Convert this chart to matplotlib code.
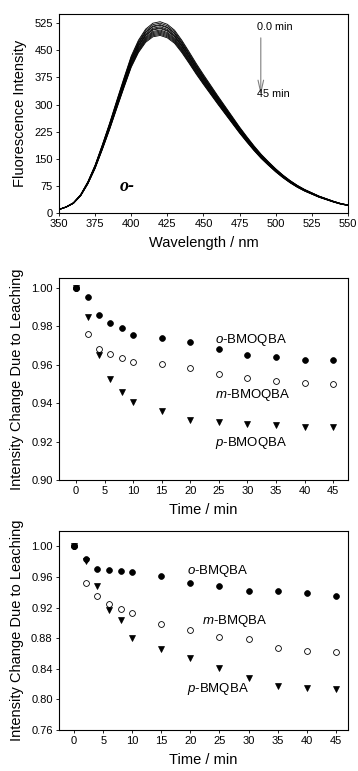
import matplotlib
matplotlib.use("Agg")
import matplotlib.pyplot as plt

plt.rcParams['font.family'] = ['Liberation Sans', 'DejaVu Sans']
plt.rcParams['mathtext.fontset'] = 'custom'
plt.rcParams['mathtext.it'] = 'Liberation Sans:italic'
plt.rcParams['mathtext.rm'] = 'Liberation Sans'

# spectrum (o-BMOQBA), base shape
wavelength = [350, 355, 360, 365, 370, 375, 380, 385, 390, 395, 400, 405, 410,
              415, 420, 425, 430, 435, 440, 445, 450, 455, 460, 465, 470, 475,
              480, 485, 490, 495, 500, 505, 510, 515, 520, 525, 530, 535, 540,
              545, 550]
base_int = [10, 17, 28, 50, 85, 130, 185, 243, 305, 366, 425, 468, 498,
            514, 518, 511, 495, 468, 437, 405, 375, 346, 317, 289, 261, 233,
            207, 182, 159, 139, 120, 103, 88, 75, 64, 55, 46, 39, 32,
            26, 22]
# peak height of each scan, 0 -> 45 min
peaks = [529, 525, 521, 519, 515, 512, 510, 506, 503, 500, 497, 494, 491]

# leaching data
time = [0, 2, 4, 6, 8, 10, 15, 20, 25, 30, 35, 40, 45]
o_bmoqba = [1.000, 0.9952, 0.9858, 0.9818, 0.9789, 0.9752, 0.9738, 0.9719, 0.9681, 0.9650, 0.9638, 0.9626, 0.9626]
m_bmoqba = [1.000, 0.9758, 0.9680, 0.9654, 0.9636, 0.9616, 0.9605, 0.9584, 0.9551, 0.9532, 0.9513, 0.9505, 0.9500]
p_bmoqba = [1.000, 0.9848, 0.9648, 0.9527, 0.9455, 0.9403, 0.9359, 0.9311, 0.9300, 0.9293, 0.9288, 0.9278, 0.9278]

o_bmqba = [1.000, 0.9840, 0.9704, 0.9687, 0.9674, 0.9665, 0.9609, 0.9519, 0.9480, 0.9414, 0.9414, 0.9384, 0.9354]
m_bmqba = [1.000, 0.9526, 0.9348, 0.9248, 0.9187, 0.9135, 0.8987, 0.8903, 0.8813, 0.8787, 0.8674, 0.8635, 0.8616]
p_bmqba = [1.000, 0.9804, 0.9478, 0.9165, 0.9043, 0.8804, 0.8665, 0.8542, 0.8408, 0.8282, 0.8178, 0.8148, 0.8135]

fig = plt.figure(figsize=(3.58, 7.71), dpi=100)
ax1 = fig.add_axes([0.1648, 0.7237, 0.807, 0.258])
ax2 = fig.add_axes([0.1648, 0.3774, 0.807, 0.262])
ax3 = fig.add_axes([0.1648, 0.0532, 0.807, 0.258])

for ax in (ax1, ax2, ax3):
    ax.tick_params(direction='out', length=2.5, width=0.6, labelsize=8,
                   top=False, right=False, pad=2)
    for s in ax.spines.values():
        s.set_linewidth(0.8)

# panel 1
bmax = max(base_int)
for pk in peaks:
    ax1.plot(wavelength, [v * pk / bmax for v in base_int], color='black', lw=0.6)
ax1.set_xlim(350, 550)
ax1.set_ylim(0, 550)
ax1.set_xticks(range(350, 551, 25))
ax1.set_yticks(range(0, 526, 75))
ax1.set_xlabel('Wavelength / nm', fontsize=10.5, labelpad=5)
ax1.set_ylabel('Fluorescence Intensity', fontsize=10.5, labelpad=5)
ax1.annotate('', xy=(489.7, 318), xytext=(489.7, 492),
             arrowprops=dict(arrowstyle='->,head_length=0.9,head_width=0.2',
                             color='gray', lw=0.8))
ax1.text(487, 514, '0.0 min', fontsize=7.8, va='center', ha='left')
ax1.text(487, 330, '45 min', fontsize=7.8, va='center', ha='left')
ax1.text(392, 73, 'o-', family='Liberation Serif', style='italic',
         weight='bold', fontsize=13, va='center', ha='left')

# panel 2
ax2.plot(time, o_bmoqba, 'o', ms=4.2, mfc='black', mec='black', mew=0.5)
ax2.plot(time, m_bmoqba, 'o', ms=4.2, mfc='white', mec='black', mew=0.6)
ax2.plot(time, p_bmoqba, 'v', ms=4.2, mfc='black', mec='black', mew=0.5)
ax2.plot(time[:1], o_bmoqba[:1], 'o', ms=4.2, mfc='black', mec='black', mew=0.5)
ax2.set_xlim(-3, 47.6)
ax2.set_ylim(0.90, 1.005)
ax2.set_xticks(range(0, 46, 5))
ax2.set_yticks([0.90, 0.92, 0.94, 0.96, 0.98, 1.00])
ax2.yaxis.set_major_formatter(matplotlib.ticker.FormatStrFormatter('%.2f'))
ax2.set_xlabel('Time / min', fontsize=10.5, labelpad=5)
ax2.set_ylabel('Intensity Change Due to Leaching', fontsize=10.5, labelpad=5)
ax2.text(24.3, 0.973, r'$\mathit{o}$-BMOQBA', fontsize=9.5, va='center', ha='left')
ax2.text(24.3, 0.944, r'$\mathit{m}$-BMOQBA', fontsize=9.5, va='center', ha='left')
ax2.text(24.3, 0.9193, r'$\mathit{p}$-BMOQBA', fontsize=9.5, va='center', ha='left')

# panel 3
ax3.plot(time, o_bmqba, 'o', ms=4.2, mfc='black', mec='black', mew=0.5)
ax3.plot(time, m_bmqba, 'o', ms=4.2, mfc='white', mec='black', mew=0.6)
ax3.plot(time, p_bmqba, 'v', ms=4.2, mfc='black', mec='black', mew=0.5)
ax3.plot(time[:1], o_bmqba[:1], 'o', ms=4.2, mfc='black', mec='black', mew=0.5)
ax3.set_xlim(-2.6, 47.1)
ax3.set_ylim(0.76, 1.02)
ax3.set_xticks(range(0, 46, 5))
ax3.set_yticks([0.76, 0.80, 0.84, 0.88, 0.92, 0.96, 1.00])
ax3.yaxis.set_major_formatter(matplotlib.ticker.FormatStrFormatter('%.2f'))
ax3.set_xlabel('Time / min', fontsize=10.5, labelpad=5)
ax3.set_ylabel('Intensity Change Due to Leaching', fontsize=10.5, labelpad=5)
ax3.text(19.4, 0.9675, r'$\mathit{o}$-BMQBA', fontsize=9.5, va='center', ha='left')
ax3.text(22.0, 0.903, r'$\mathit{m}$-BMQBA', fontsize=9.5, va='center', ha='left')
ax3.text(19.4, 0.8135, r'$\mathit{p}$-BMQBA', fontsize=9.5, va='center', ha='left')

fig.savefig('out.png', dpi=100)
